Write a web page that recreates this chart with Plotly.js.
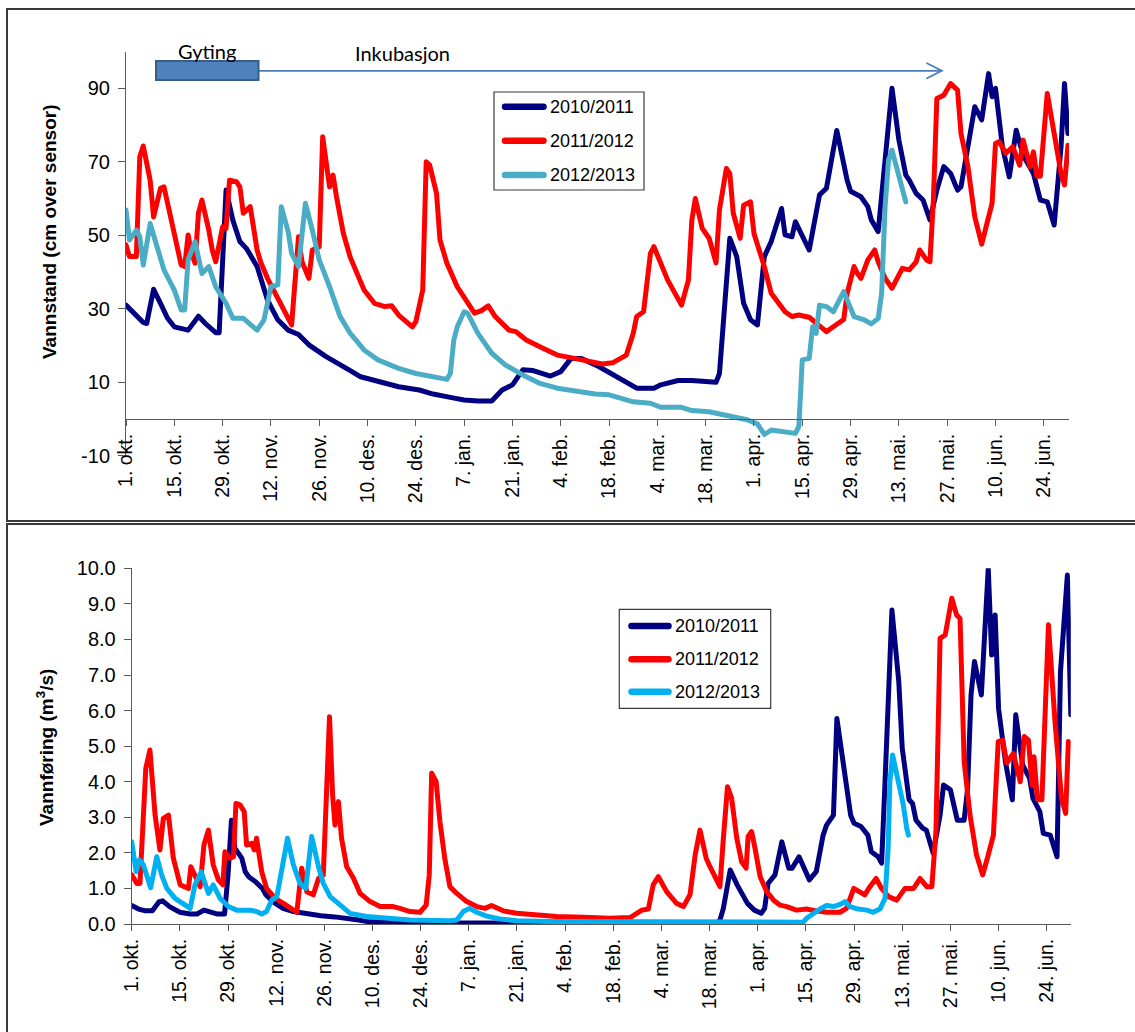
<!DOCTYPE html>
<html>
<head>
<meta charset="utf-8">
<script src="https://cdn.plot.ly/plotly-3.0.1.min.js"></script>
<style>
  html, body { margin: 0; padding: 0; background: #ffffff; }
  #chart { width: 1135px; height: 1032px; }
  .scatterlayer .js-line { stroke-linejoin: round; stroke-linecap: round; }
  .shapelayer path { stroke-linecap: round; }
</style>
</head>
<body>
<div id="chart"></div>
<script>
// Season labels
const seasons = ["2010/2011", "2011/2012", "2012/2013"];

// Date axis: days counted from 1 October, labelled every 14 days
const tickLabels = ["1. okt.", "15. okt.", "29. okt.", "12. nov.", "26. nov.", "10. des.", "24. des.",
  "7. jan.", "21. jan.", "4. feb.", "18. feb.", "4. mar.", "18. mar.", "1. apr.", "15. apr.",
  "29. apr.", "13. mai.", "27. mai.", "10. jun.", "24. jun."];

// Vannstand (cm over sensor)
const levelDays1011 = [0,2,5,6,8,10,12,14,18,21,23,26,27,29,31,33,35,38,41,44,47,50,53,58,63,65,68,73,79,85,89,94,98,102,106,109,112,115,118,123,126,129,132,137,142,148,153,155,160,164,171,172,175,177,179,181,183,185,187,190,191,193,194,198,201,203,206,207,208,209,210,213,215,216,218,220,222,224,226,227,229,231,233,235,237,239,241,242,244,246,248,250,251,252,254,256,258,260,263,265,267,269,271,272,273];
const levelCm1011 = [31.0,29.0,26.3,26.0,35.3,31.5,27.5,25.1,24.2,28.0,26.0,23.5,23.5,62.3,54.0,48.3,46.3,41.5,32.4,27.0,24.2,23.0,20.2,17.0,14.0,13.2,11.5,10.2,8.8,7.9,6.8,5.9,5.2,4.9,4.9,7.9,9.3,13.4,13.2,11.7,12.9,16.5,16.5,14.3,11.5,8.4,8.4,9.3,10.5,10.5,10.0,12.4,49.2,44.2,31.5,27.0,25.6,44.2,48.3,57.3,50.1,49.6,53.7,46.0,61.0,62.8,78.5,74.0,69.0,65.0,62.0,60.5,57.8,54.2,51.0,71.0,90.0,75.9,66.4,65.0,61.4,59.6,54.2,62.3,68.7,66.8,62.3,63.2,73.2,85.0,81.4,94.0,87.7,90.0,74.1,65.9,78.6,71.8,66.8,59.6,59.1,52.8,74.1,91.3,77.7];

const levelDays1112 = [0,1,3,4,5,7,8,10,11,13,15,16,17,18,19,20,21,22,24,25,26,28,29,30,32,33,34,35,36,38,39,41,44,46,48,50,51,53,54,56,57,59,60,61,63,65,67,69,72,75,77,79,83,84,86,87,88,90,91,93,96,99,101,103,105,107,111,113,116,121,125,130,134,138,141,145,147,148,150,152,153,157,161,163,164,165,167,169,171,172,174,175,176,178,179,181,182,185,187,190,191,193,195,198,201,203,205,208,209,211,212,213,215,217,218,220,222,225,227,229,230,232,233,234,235,237,239,241,242,244,246,248,251,252,253,255,257,259,260,261,262,263,264,265,267,269,271,272,273];
const levelCm1112 = [47.4,44.2,44.2,71.4,74.3,65.0,55.0,62.8,63.2,55.0,46.0,41.9,41.5,50.1,45.1,42.4,56.0,59.6,51.4,46.0,42.8,52.3,51.9,65.0,64.6,63.2,56.0,56.9,57.8,46.0,42.8,38.3,32.8,28.8,25.6,49.6,42.8,38.3,46.0,46.9,76.8,63.2,66.4,60.5,50.5,44.0,39.6,35.1,31.5,30.6,30.8,28.3,25.1,26.5,35.1,70.0,69.1,61.4,48.7,42.4,36.0,31.5,28.8,29.5,30.8,27.9,24.2,23.8,21.5,19.2,17.4,16.5,15.6,15.0,15.3,17.4,23.3,27.9,29.2,45.1,46.9,37.8,31.0,37.8,54.2,60.0,51.9,49.2,42.5,56.9,68.2,66.8,56.0,49.2,58.2,59.1,50.5,41.5,34.2,30.6,29.2,27.9,28.3,27.7,25.1,23.8,25.1,27.1,34.2,41.5,39.6,38.3,43.3,46.0,42.8,38.3,35.6,41.0,40.6,42.8,46.0,43.3,42.8,59.6,87.2,88.1,91.3,89.5,77.7,68.7,55.0,47.6,58.7,75.0,75.5,72.3,74.1,69.1,75.9,72.7,68.7,72.7,66.1,66.1,88.6,77.7,66.8,63.7,74.5];

const levelDays1213 = [0,1,3,4,5,7,9,11,14,16,17,18,20,22,24,26,29,31,34,36,38,40,42,44,45,47,48,50,52,54,56,59,62,65,69,73,76,79,84,89,93,94,95,96,98,99,102,106,110,115,120,125,131,136,140,142,147,152,155,161,164,169,174,180,183,185,187,190,194,195,196,198,199,200,201,203,205,208,211,214,216,218,219,220,221,222,223,224,226];
const levelCm1213 = [56.9,48.7,51.4,49.6,41.9,53.2,46.9,40.6,35.1,29.7,29.7,43.3,48.3,39.6,41.5,36.0,31.5,27.4,27.4,26.0,24.2,27.0,36.0,36.5,57.8,51.0,45.1,41.5,58.7,51.4,43.3,36.0,28.0,23.3,18.8,16.1,15.0,13.8,12.4,11.4,10.8,12.4,21.5,25.1,29.2,28.8,23.3,17.9,14.7,12.0,9.7,8.4,7.5,6.8,6.6,6.1,4.7,4.3,3.2,3.2,2.3,2.0,1.1,-0.2,-1.3,-4.2,-3.0,-3.4,-3.9,-2.1,16.1,16.5,25.1,23.3,31.0,30.6,29.2,34.7,27.9,27.0,25.9,27.4,34.2,57.8,70.5,73.2,69.6,65.0,59.1];

// Vannføring (m3/s)
const flowDays1011 = [0,2,4,6,8,9,11,14,17,19,21,23,25,27,28,29,30,32,33,34,36,38,39,41,44,47,51,55,59,64,66,69,75,90,110,130,150,170,171,172,174,176,179,181,183,184,185,187,189,191,192,194,197,199,201,202,204,205,207,209,210,212,214,215,217,218,219,221,223,224,226,227,228,230,231,233,235,236,238,240,242,243,244,245,247,248,249,250,251,252,254,256,257,259,261,262,264,265,267,269,270,272,273];
const flowM3s1011 = [0.52,0.42,0.37,0.37,0.63,0.65,0.49,0.33,0.28,0.28,0.39,0.35,0.28,0.28,1.38,2.92,2.13,1.85,1.47,1.33,1.19,1.0,0.82,0.63,0.44,0.35,0.28,0.23,0.2,0.15,0.11,0.06,0.04,0.03,0.02,0.03,0.02,0.03,0.11,0.44,1.52,1.1,0.58,0.39,0.3,0.44,1.14,1.38,2.31,1.57,1.57,1.89,1.24,1.47,2.5,2.78,3.06,5.78,4.4,3.06,2.83,2.74,2.5,2.03,1.89,1.71,4.0,8.83,6.81,4.94,3.49,3.39,2.92,2.69,2.64,1.99,3.06,3.91,3.77,2.92,2.92,3.81,6.44,7.38,6.44,8.03,10.0,7.56,8.69,6.06,4.56,3.49,5.88,4.47,4.1,3.53,3.16,2.55,2.5,1.89,7.09,9.81,5.88];

const flowDays1112 = [0,1.5,2.4,3.2,4.1,5.3,6.8,8.2,9.2,10.7,12.1,14.1,15.5,16.5,17.2,18.4,19.9,21,22.3,23.7,25.2,26.5,27.1,28.6,29.6,30.3,31.5,32.7,33.4,34.9,35.6,36.3,37.8,39.2,41.7,44.1,46,48,49.4,50.9,52.8,54.3,55.7,56.7,57.5,58.4,59.1,60.1,61,62.5,64.4,66.4,69.3,72.2,76,78,80.9,83.8,85.6,86.5,87.2,88.5,89.6,91,92.5,94.5,97.4,100.3,102.7,104.6,108,111.9,117.7,123.5,131.3,138.9,144.9,146.8,148.3,150.2,151.6,153.1,155.5,158.4,160.4,162.3,163.8,165.2,167,168.1,171,172,173.2,174.4,175.9,177.3,178.6,179.2,180.2,181.2,182.7,184.6,186.6,188.5,190.4,193.3,196.2,199,202,205.9,207.8,209.9,211.2,213.1,214.6,216.4,218,220,222.4,224.8,227.3,229.2,231.1,232.6,233.8,235,236.5,238.4,239.8,240.8,242,243.7,245.6,247.4,249,250.5,251.9,253.2,254.4,256.3,258.3,259.5,260.7,261.7,262.3,263.3,264.6,266.5,268.4,270.3,271.5,272.3];
const flowM3s1112 = [1.38,1.14,1.14,2.69,4.38,4.89,3.06,2.08,2.97,3.06,1.85,1.1,1.02,1.0,1.61,1.38,1.05,2.22,2.64,1.66,1.24,1.1,2.03,1.85,1.89,3.39,3.35,3.16,2.22,2.27,2.08,2.41,1.47,1.0,0.72,0.58,0.44,0.33,1.57,0.91,0.82,1.28,1.38,4.19,5.83,3.63,2.78,3.44,2.41,1.61,1.3,0.86,0.63,0.49,0.49,0.44,0.35,0.33,0.53,1.38,4.24,4.0,2.88,1.85,1.05,0.86,0.63,0.49,0.44,0.52,0.37,0.3,0.25,0.21,0.19,0.16,0.18,0.3,0.39,0.42,1.1,1.33,0.91,0.58,0.49,0.82,1.94,2.64,1.85,1.61,1.05,2.41,3.86,3.53,2.41,1.75,1.57,2.46,2.6,2.13,1.33,0.91,0.67,0.53,0.49,0.39,0.42,0.37,0.33,0.33,0.44,1.0,0.91,0.82,1.05,1.28,1.0,0.77,0.67,1.0,1.0,1.28,1.05,1.05,2.6,8.03,8.13,9.16,8.69,8.59,4.56,3.06,1.94,1.38,1.94,2.5,5.13,5.17,4.52,4.8,4.0,5.27,5.17,3.91,4.7,3.49,3.49,8.41,5.69,3.53,3.11,5.13];

const flowDays1213 = [0,1.3,2.2,3.4,5.5,7.3,8.7,10.2,12.6,15,17,18.4,20.2,22.3,23.7,25.7,28.1,30.5,34.4,36.3,37.8,39.2,40.7,42.2,45.3,47,48.9,50.6,52.3,54.3,55.7,57.7,60.6,63.5,68.3,73.1,80.9,92.5,94.5,96.4,98.2,100.3,103.2,107.1,111.9,121.6,138.9,160,180,195.2,196.2,198.2,200.1,202,204,205.9,207.4,208.8,211.2,213.7,215.6,217.5,219,219.9,220.4,221.2,222.4,223.3,224.3,225.3,225.8];
const flowM3s1213 = [2.31,1.47,1.8,1.66,1.02,1.89,1.38,1.0,0.72,0.58,0.44,1.1,1.47,0.86,1.1,0.72,0.49,0.39,0.39,0.35,0.28,0.35,0.67,0.77,2.41,1.66,1.14,1.0,2.46,1.61,1.14,0.77,0.53,0.3,0.21,0.16,0.11,0.09,0.11,0.35,0.44,0.33,0.22,0.14,0.09,0.07,0.06,0.05,0.04,0.05,0.16,0.3,0.42,0.52,0.49,0.55,0.63,0.49,0.42,0.39,0.33,0.42,0.72,2.13,4.0,4.75,4.19,3.72,3.35,2.69,2.5];

// Series colours
const levelColors = ["#000080", "#FF0000", "#4BACC6"];
const flowColors = ["#000080", "#FF0000", "#00B0F0"];

// ---- page geometry (pixels -> paper fractions) ----
const W = 1135, H = 1032;
const fx = p => p / W;
const fy = p => 1 - p / H;

const tickDays = tickLabels.map((_, i) => i * 14);
const LINE_W = 5;
const AXIS_COLOR = "#595959";
const FONT = '"Liberation Sans", Arial, sans-serif';

const levelSeries = [[levelDays1011, levelCm1011], [levelDays1112, levelCm1112], [levelDays1213, levelCm1213]];
const flowSeries = [[flowDays1011, flowM3s1011], [flowDays1112, flowM3s1112], [flowDays1213, flowM3s1213]];

const traces = [];
levelSeries.forEach(([d, v], i) => traces.push({
  type: "scatter", mode: "lines", name: seasons[i], x: d, y: v,
  xaxis: "x", yaxis: "y", line: { color: levelColors[i], width: LINE_W }, showlegend: false
}));
flowSeries.forEach(([d, v], i) => traces.push({
  type: "scatter", mode: "lines", name: seasons[i], x: d, y: v,
  xaxis: "x2", yaxis: "y2", line: { color: flowColors[i], width: LINE_W }, showlegend: false
}));

const commonX = {
  tickmode: "array", tickvals: tickDays, ticktext: tickLabels, tickangle: -90,
  ticks: "outside", ticklen: 6, tickwidth: 1, tickcolor: AXIS_COLOR,
  showline: true, linecolor: AXIS_COLOR, linewidth: 1,
  showgrid: false, zeroline: false, fixedrange: true,
  tickfont: { family: FONT, size: 19.5, color: "#000" }
};
const commonY = {
  ticks: "outside", ticklen: 7, tickwidth: 1, tickcolor: AXIS_COLOR,
  showline: true, linecolor: AXIS_COLOR, linewidth: 1,
  showgrid: false, zeroline: false, fixedrange: true, ticklabelstandoff: 4,
  tickfont: { family: FONT, size: 20, color: "#000" }
};

// top panel: y from -10 to 100, date axis crossing at 0
const topYpx = v => 51.55 + (100 - v) * 3.675;

const layout = {
  width: W, height: H,
  margin: { l: 0, r: 0, t: 0, b: 0 },
  paper_bgcolor: "#ffffff", plot_bgcolor: "rgba(0,0,0,0)",
  showlegend: false,
  font: { family: FONT, color: "#000" },
  xaxis: Object.assign({}, commonX, {
    domain: [fx(126), fx(1069)], range: [0, 273.3], anchor: "free", position: fy(topYpx(0))
  }),
  yaxis: Object.assign({}, commonY, {
    domain: [fy(topYpx(-10)), fy(topYpx(100))], range: [-10, 100], anchor: "x",
    tickmode: "array", tickvals: [-10, 10, 30, 50, 70, 90], ticktext: ["-10", "10", "30", "50", "70", "90"]
  }),
  xaxis2: Object.assign({}, commonX, {
    domain: [fx(131.7), fx(1070.8)], range: [0, 273], anchor: "y2"
  }),
  yaxis2: Object.assign({}, commonY, {
    domain: [fy(924), fy(568.3)], range: [0, 10], anchor: "x2",
    tickmode: "linear", tick0: 0, dtick: 1, tickformat: ".1f"
  }),
  shapes: [],
  annotations: []
};

const S = layout.shapes, A = layout.annotations;
const paperLine = (x0, y0, x1, y1, color, width) => S.push({
  type: "line", xref: "paper", yref: "paper",
  x0: fx(x0), y0: fy(y0), x1: fx(x1), y1: fy(y1), line: { color, width }
});
const paperRect = (x0, y0, x1, y1, color, width, fill) => S.push({
  type: "rect", xref: "paper", yref: "paper",
  x0: fx(x0), y0: fy(y0), x1: fx(x1), y1: fy(y1),
  line: { color, width }, fillcolor: fill || "rgba(0,0,0,0)"
});
const text = (t, x, y, opts) => A.push(Object.assign({
  text: t, xref: "paper", yref: "paper", x: fx(x), y: fy(y),
  showarrow: false, xanchor: "center", yanchor: "middle",
  font: { family: FONT, size: 18, color: "#000" }
}, opts || {}));

// panel frames
paperRect(7, 9, 1140, 521, "#3a3a3a", 2);
paperRect(7, 524, 1140, 1040, "#3a3a3a", 2);

// spawning / incubation period marker
paperLine(258, 70.8, 941.5, 70.8, "#4A7EBB", 1.8);
S.push({
  type: "path", xref: "paper", yref: "paper",
  path: `M${fx(927)},${fy(63.3)} L${fx(941.7)},${fy(70.8)} L${fx(927)},${fy(78.3)}`,
  line: { color: "#4A7EBB", width: 1.8 }
});
paperRect(156, 61, 258.5, 80, "#385D8A", 2, "#4F81BD");
text("Gyting", 207, 51, { font: { family: "Lato, 'Open Sans', sans-serif", size: 20, color: "#000" } });
text("Inkubasjon", 403, 53, { font: { family: "Lato, 'Open Sans', sans-serif", size: 20, color: "#000" } });

// axis titles
text("<b>Vannstand (cm over sensor)</b>", 50, 232, { textangle: -90, font: { family: FONT, size: 19, color: "#000" } });
text("<b>Vannføring (m<sup>3</sup>/s)</b>", 45, 748, { textangle: -90, font: { family: FONT, size: 19, color: "#000" } });

// legends
function legendBox(box, rows, lineX, textX, colors) {
  paperRect(box[0], box[1], box[2], box[3], "#3a3a3a", 1.2, "#ffffff");
  rows.forEach((ry, i) => {
    paperLine(lineX[0], ry, lineX[1], ry, colors[i], 6.5);
    text(seasons[i], textX, ry, { xanchor: "left" });
  });
}
legendBox([494, 92, 644, 190], [106.7, 140.7, 175], [505, 543.5], 548, levelColors);
legendBox([619.3, 609.3, 770.7, 708.3], [626, 659.3, 691.7], [631.5, 668.5], 673, flowColors);

Plotly.newPlot("chart", traces, layout, { staticPlot: true, displayModeBar: false });
</script>
</body>
</html>
